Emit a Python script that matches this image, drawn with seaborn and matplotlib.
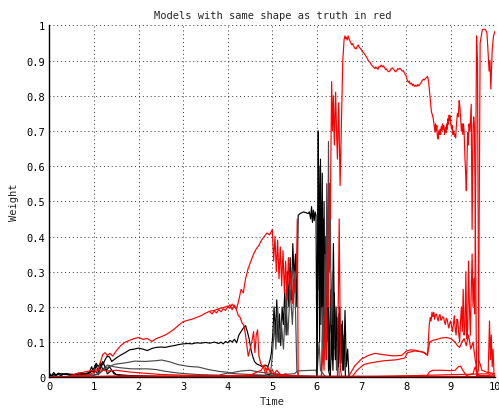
import matplotlib
matplotlib.use("Agg")
import matplotlib.pyplot as plt
import pandas as pd
import seaborn as sns

# ---- model weight traces (time, weight) ----
red_a_t = [0, 6.10, 6.14, 6.16, 6.19, 6.21, 6.24, 6.26, 6.28, 6.30,
           6.33, 6.35, 6.37, 6.39, 6.42, 6.44, 6.46, 6.49, 6.52, 6.55,
           6.58, 6.61, 6.63, 6.645, 6.66, 6.68, 6.70, 6.72, 6.74, 6.76,
           6.78, 6.80, 6.82, 6.85, 6.88, 6.90, 6.93, 6.95, 6.97, 7.00,
           7.02, 7.04, 7.07, 7.10, 7.12, 7.15, 7.17, 7.19, 7.22, 7.25,
           7.27, 7.30, 7.32, 7.34, 7.37, 7.39, 7.41, 7.44, 7.47, 7.49,
           7.52, 7.54, 7.56, 7.59, 7.61, 7.64, 7.66, 7.69, 7.71, 7.74,
           7.76, 7.79, 7.81, 7.84, 7.86, 7.89, 7.91, 7.94, 7.96, 7.98,
           8.00, 8.02, 8.05, 8.07, 8.09, 8.12, 8.14, 8.16, 8.19, 8.21,
           8.24, 8.26, 8.29, 8.31, 8.34, 8.36, 8.39, 8.41, 8.44, 8.46,
           8.48, 8.50, 8.52, 8.54, 8.555, 8.57, 8.59, 8.61, 8.63, 8.65,
           8.66, 8.67, 8.69, 8.70, 8.72, 8.73, 8.745, 8.76, 8.775, 8.79,
           8.80, 8.815, 8.83, 8.845, 8.86, 8.87, 8.885, 8.90, 8.91, 8.925,
           8.94, 8.95, 8.965, 8.98, 8.99, 9.00, 9.02, 9.035, 9.05, 9.07,
           9.085, 9.10, 9.11, 9.13, 9.15, 9.17, 9.19, 9.205, 9.22, 9.24,
           9.255, 9.27, 9.285, 9.30, 9.31, 9.32, 9.335, 9.35, 9.365, 9.38,
           9.395, 9.41, 9.43, 9.445, 9.46, 9.47, 9.48, 9.49, 9.50, 9.515,
           9.53, 9.545, 9.56, 9.58, 9.62, 9.66, 9.71, 9.77, 9.81, 9.83,
           9.86, 9.88, 9.90, 9.93, 9.96, 10.0]
red_a_w = [0, 0.0, 0.08, 0.02, 0.20, 0.05, 0.38, 0.20, 0.55, 0.45,
           0.84, 0.70, 0.80, 0.66, 0.81, 0.70, 0.62, 0.78, 0.545, 0.72,
           0.90, 0.96, 0.97, 0.962, 0.966, 0.958, 0.97, 0.962, 0.956, 0.95,
           0.945, 0.948, 0.942, 0.935, 0.933, 0.94, 0.944, 0.938, 0.935, 0.93,
           0.925, 0.923, 0.918, 0.912, 0.909, 0.90, 0.898, 0.895, 0.888, 0.884,
           0.881, 0.877, 0.882, 0.879, 0.875, 0.883, 0.881, 0.887, 0.882, 0.885,
           0.879, 0.874, 0.876, 0.870, 0.868, 0.871, 0.876, 0.879, 0.876, 0.872,
           0.868, 0.871, 0.877, 0.875, 0.878, 0.874, 0.870, 0.871, 0.865, 0.86,
           0.857, 0.846, 0.838, 0.842, 0.833, 0.836, 0.829, 0.833, 0.826, 0.83,
           0.827, 0.832, 0.828, 0.833, 0.838, 0.843, 0.847, 0.845, 0.85, 0.852,
           0.855, 0.843, 0.82, 0.791, 0.77, 0.753, 0.745, 0.734, 0.715, 0.696,
           0.72, 0.70, 0.715, 0.685, 0.677, 0.70, 0.69, 0.705, 0.69, 0.712,
           0.701, 0.72, 0.705, 0.715, 0.69, 0.70, 0.71, 0.695, 0.72, 0.705,
           0.735, 0.72, 0.745, 0.73, 0.743, 0.72, 0.705, 0.715, 0.69, 0.70,
           0.685, 0.69, 0.68, 0.72, 0.75, 0.74, 0.786, 0.77, 0.74, 0.70,
           0.72, 0.69, 0.72, 0.70, 0.66, 0.62, 0.58, 0.53, 0.62, 0.696,
           0.66, 0.72, 0.70, 0.74, 0.776, 0.6, 0.42, 0.55, 0.70, 0.74,
           0.72, 0.55, 0.30, 0.0, 0.02, 0.95, 0.988, 0.989, 0.980, 0.942,
           0.87, 0.90, 0.819, 0.93, 0.97, 0.985]

red_b_t = [0, 0.5, 0.9, 1.1, 1.15, 1.2, 1.25, 1.3, 1.36, 1.42, 1.5, 1.6, 1.7, 1.8, 1.9, 2.0, 2.1, 2.2, 2.3,
           2.4, 2.5, 2.6, 2.7, 2.8, 2.9, 3.0, 3.1, 3.2, 3.3, 3.4, 3.5, 3.6, 3.7, 3.8, 3.9, 4.0, 4.05, 4.1, 4.15,
           4.2, 4.25, 4.3, 4.35, 4.4, 4.46, 4.52, 4.58, 4.64, 4.7, 4.76, 4.82, 4.88, 4.94, 5.0, 5.03, 5.06, 5.09,
           5.12, 5.15, 5.18, 5.21, 5.24, 5.27, 5.3, 5.33, 5.36, 5.39, 5.42, 5.45, 5.48, 5.51, 5.54, 5.56, 5.58,
           5.6, 10]
red_b_w = [0, 0.003, 0.008, 0.02, 0.045, 0.065, 0.07, 0.062, 0.068, 0.06, 0.075, 0.09, 0.1, 0.105, 0.11,
           0.113, 0.108, 0.11, 0.102, 0.11, 0.115, 0.12, 0.128, 0.137, 0.148, 0.158, 0.162, 0.165, 0.17, 0.175,
           0.182, 0.188, 0.19, 0.195, 0.198, 0.202, 0.196, 0.208, 0.2, 0.195, 0.22, 0.25, 0.24, 0.28, 0.31, 0.33,
           0.35, 0.365, 0.375, 0.39, 0.4, 0.41, 0.405, 0.42, 0.33, 0.4, 0.3, 0.39, 0.28, 0.37, 0.26, 0.36, 0.24,
           0.33, 0.22, 0.34, 0.25, 0.3, 0.21, 0.28, 0.24, 0.3, 0.45, 0.0, 0.0, 0.0]

red_c_t = [3.6, 3.65, 3.7, 3.75, 3.8, 3.85, 3.9, 3.95, 4.0, 4.05, 4.1, 4.15, 4.2, 4.24, 4.28, 4.32, 4.36,
           4.4, 4.43, 4.46, 4.5, 4.54, 4.58, 4.61, 4.64, 4.67, 4.7, 4.74, 4.78, 4.82, 4.86, 4.9, 4.95, 5.0,
           5.05, 5.1, 5.2, 5.3, 5.4, 5.5, 5.6]
red_c_w = [0.186, 0.18, 0.188, 0.183, 0.192, 0.186, 0.195, 0.19, 0.2, 0.206, 0.192, 0.205, 0.19, 0.175,
           0.17, 0.155, 0.148, 0.12, 0.09, 0.06, 0.08, 0.1, 0.13, 0.07, 0.12, 0.135, 0.06, 0.04, 0.03, 0.035,
           0.02, 0.03, 0.015, 0.02, 0.01, 0.02, 0.005, 0.01, 0.003, 0.005, 0.0]

red_d_t = [0, 6.78, 6.90, 7.05, 7.20, 7.50, 7.80, 7.97, 8.03, 8.20, 8.35, 8.48, 8.53, 8.60, 8.70, 8.80,
           8.90, 9.00, 9.10, 9.15, 9.20, 9.25, 9.30, 9.35, 9.40, 9.45, 9.50, 9.55, 9.60, 9.65, 9.70, 9.80,
           9.90, 10.0]
red_d_w = [0, 0.0, 0.020, 0.036, 0.041, 0.047, 0.050, 0.055, 0.070, 0.075, 0.072, 0.065, 0.100, 0.105,
           0.108, 0.112, 0.113, 0.110, 0.100, 0.090, 0.085, 0.100, 0.110, 0.090, 0.120, 0.080, 0.100, 0.050,
           0.010, 0.005, 0.004, 0.003, 0.010, 0.005]

red_e_t = [0, 6.70, 6.85, 7.00, 7.15, 7.30, 7.50, 7.70, 7.90, 8.00,
           8.10, 8.20, 8.30, 8.40, 8.48, 8.52, 8.54, 8.56, 8.58, 8.60,
           8.62, 8.64, 8.66, 8.68, 8.70, 8.72, 8.74, 8.76, 8.78, 8.80,
           8.82, 8.84, 8.86, 8.88, 8.90, 8.92, 8.94, 8.96, 8.98, 9.00,
           9.02, 9.04, 9.06, 9.08, 9.10, 9.12, 9.14, 9.16, 9.18, 9.20,
           9.22, 9.24, 9.26, 9.28, 9.30, 9.32, 9.34, 9.36, 9.38, 9.40,
           9.42, 9.44, 9.46, 9.48, 9.50, 9.52, 9.54, 9.56, 9.58, 9.60,
           9.63, 9.70, 9.80, 10.0]
red_e_w = [0, 0.0, 0.033, 0.052, 0.062, 0.068, 0.064, 0.061, 0.062, 0.074,
           0.078, 0.077, 0.074, 0.071, 0.062, 0.150, 0.170, 0.160, 0.185, 0.172,
           0.185, 0.165, 0.178, 0.180, 0.168, 0.160, 0.175, 0.178, 0.162, 0.165,
           0.172, 0.170, 0.158, 0.150, 0.168, 0.165, 0.150, 0.140, 0.155, 0.160,
           0.145, 0.130, 0.150, 0.175, 0.140, 0.120, 0.165, 0.160, 0.125, 0.100,
           0.160, 0.200, 0.130, 0.250, 0.120, 0.140, 0.300, 0.110, 0.140, 0.330,
           0.200, 0.120, 0.240, 0.350, 0.200, 0.280, 0.180, 0.600, 0.970, 0.900,
           0.050, 0.020, 0.015, 0.010]

red_f_t = [0, 8.45, 8.52, 8.60, 8.80, 9.00, 9.10, 9.17, 9.22, 9.27, 9.35, 9.50, 9.55, 9.60, 10.0]
red_f_w = [0, 0.0, 0.015, 0.020, 0.020, 0.019, 0.020, 0.030, 0.032, 0.020, 0.005, 0.010, 0.030, 0.005, 0.004]

red_g_t = [0, 6.46, 6.50, 6.53, 6.56, 9.84, 9.87, 9.89, 9.91, 9.93, 9.95, 9.97, 10.0]
red_g_w = [0, 0.0, 0.45, 0.02, 0.0, 0.01, 0.16, 0.05, 0.12, 0.03, 0.08, 0.01, 0.01]

red_low_t = [0, 0.4, 0.6, 0.9, 1.1, 1.3, 1.5, 1.8, 2.1, 2.5, 3.0, 3.5, 4.0, 4.5, 4.75, 4.8, 4.85, 4.9,
             5.0, 5.2, 6.0, 10]
red_low_w = [0.0, 0.0, 0.01, 0.018, 0.022, 0.018, 0.02, 0.015, 0.012, 0.008, 0.006, 0.005, 0.005, 0.006,
             0.02, 0.03, 0.01, 0.025, 0.01, 0.004, 0.003, 0.002]

red_base_t = [0, 1.5, 3.0, 4.5, 5.0, 10]
red_base_w = [0, 0.004, 0.003, 0.004, 0.002, 0.001]

blk_1_t = [0, 0.3, 0.6, 0.9, 1.0, 1.05, 1.1, 1.15, 1.2, 1.25, 1.3, 1.35, 1.4, 1.45, 1.5, 1.6, 1.7, 1.8,
           1.9, 2.0, 2.1, 2.2, 2.3, 2.4, 2.5, 2.6, 2.7, 2.8, 2.9, 3.0, 3.1, 3.2, 3.3, 3.4, 3.5, 3.6, 3.7,
           3.8, 3.85, 3.9, 3.95, 4.0, 4.05, 4.1, 4.15, 4.2, 4.25, 4.3, 4.35, 4.4, 4.44, 4.48, 4.52, 4.56,
           4.6, 4.65, 4.7, 4.75, 4.8, 4.85, 4.9, 4.95, 4.98, 5.01, 5.04, 5.07, 5.1, 5.13, 5.16, 5.19, 5.22,
           5.25, 5.28, 5.31, 5.34, 5.37, 5.4, 5.43, 5.46, 5.49, 5.52, 5.55, 5.58, 5.62, 5.7, 5.75, 5.8, 5.83,
           5.86, 5.88, 5.9, 5.92, 5.94, 5.96, 5.98, 6.0, 6.02, 6.03, 6.05, 6.07, 6.09, 6.11, 6.13, 6.15,
           6.17, 6.19, 6.21, 6.23, 6.26, 6.3, 10]
blk_1_w = [0.005, 0.01, 0.008, 0.012, 0.025, 0.04, 0.03, 0.042, 0.035, 0.05, 0.06, 0.058, 0.045, 0.05,
           0.055, 0.063, 0.07, 0.078, 0.08, 0.083, 0.08, 0.076, 0.082, 0.085, 0.086, 0.085, 0.088, 0.09,
           0.093, 0.095, 0.096, 0.095, 0.098, 0.097, 0.099, 0.097, 0.1, 0.096, 0.1, 0.095, 0.102, 0.098,
           0.105, 0.1, 0.108, 0.098, 0.12, 0.13, 0.14, 0.147, 0.13, 0.11, 0.08, 0.06, 0.045, 0.038, 0.035,
           0.032, 0.03, 0.035, 0.03, 0.05, 0.07, 0.12, 0.2, 0.12, 0.22, 0.1, 0.18, 0.09, 0.2, 0.15, 0.25,
           0.12, 0.3, 0.2, 0.34, 0.22, 0.38, 0.28, 0.35, 0.2, 0.46, 0.465, 0.47, 0.468, 0.465, 0.47, 0.45,
           0.485, 0.44, 0.475, 0.445, 0.47, 0.46, 0.02, 0.5, 0.7, 0.25, 0.6, 0.15, 0.5, 0.1, 0.45, 0.08,
           0.35, 0.05, 0.3, 0.02, 0.0, 0.0]

blk_3_t = [0, 1.0, 1.15, 1.29, 1.47, 1.7, 1.92, 2.15, 2.37, 2.52, 2.7, 2.89, 3.12, 3.35, 3.57, 3.79,
           4.09, 4.3, 4.5, 4.7, 4.9, 5.2, 5.5, 5.56, 5.7, 5.9, 5.98, 6.0, 6.05, 6.08, 6.2, 10]
blk_3_w = [0.0, 0.005, 0.015, 0.028, 0.037, 0.041, 0.046, 0.045, 0.047, 0.049, 0.044, 0.036, 0.031,
           0.029, 0.022, 0.017, 0.013, 0.018, 0.02, 0.015, 0.012, 0.008, 0.01, 0.018, 0.019, 0.02, 0.02,
           0.005, 0.1, 0.02, 0.0, 0.0]

blk_4_t = [0, 1.1, 1.2, 1.3, 1.45, 1.6, 1.85, 2.2, 2.4, 2.6, 2.9, 3.3, 3.8, 4.0, 4.2, 4.5, 5.0, 6.0, 10]
blk_4_w = [0.0, 0.008, 0.02, 0.035, 0.03, 0.027, 0.024, 0.024, 0.022, 0.017, 0.012, 0.008, 0.006, 0.012,
           0.01, 0.008, 0.005, 0.003, 0.002]

blk_6_t = [0, 6.0, 6.02, 6.04, 6.06, 6.08, 6.1, 6.12, 6.14, 6.16, 6.18, 6.2, 6.22, 6.25, 6.28, 6.31,
           6.34, 6.37, 6.4, 6.43, 6.46, 6.49, 6.52, 6.55, 6.58, 6.61, 6.64, 10]
blk_6_w = [0, 0.0, 0.3, 0.55, 0.1, 0.62, 0.2, 0.58, 0.05, 0.5, 0.15, 0.4, 0.1, 0.3, 0.02, 0.25, 0.05,
           0.38, 0.08, 0.2, 0.02, 0.18, 0.04, 0.15, 0.02, 0.12, 0.0, 0.0]

blk_7_t = [0, 6.1, 6.13, 6.15, 6.18, 6.2, 6.22, 6.24, 6.26, 6.28, 6.3, 6.32, 6.35, 6.38, 6.41, 6.44,
           6.47, 6.5, 10]
blk_7_w = [0, 0.0, 0.2, 0.05, 0.35, 0.1, 0.55, 0.2, 0.67, 0.3, 0.5, 0.15, 0.3, 0.05, 0.17, 0.02, 0.1,
           0.0, 0.0]

blk_8_t = [0, 6.3, 6.33, 6.36, 6.39, 6.42, 6.45, 6.48, 6.51, 6.54, 6.57, 6.6, 6.63, 6.66, 6.69, 6.72, 10]
blk_8_w = [0, 0.0, 0.12, 0.02, 0.24, 0.05, 0.17, 0.03, 0.2, 0.04, 0.16, 0.02, 0.19, 0.03, 0.08, 0.0, 0.0]

blk_9_t = [0, 4.95, 5.0, 5.05, 5.08, 5.12, 5.16, 5.2, 5.25, 5.3, 5.35, 5.4, 5.45, 5.5, 5.55, 5.6, 10]
blk_9_w = [0, 0.0, 0.06, 0.15, 0.08, 0.2, 0.1, 0.16, 0.08, 0.22, 0.12, 0.25, 0.15, 0.3, 0.02, 0.0, 0.0]

blk_10_t = [0, 0.05, 0.1, 0.15, 0.2, 0.3, 0.4, 0.5, 0.6, 0.7, 0.8, 0.9, 0.95, 1.0, 1.05, 1.1, 1.15,
            1.2, 1.25, 1.3, 1.4, 1.5, 1.8, 2.5, 4.0, 4.8, 5.0, 5.5, 6.0, 6.7, 10]
blk_10_w = [0.012, 0.004, 0.014, 0.006, 0.012, 0.008, 0.01, 0.006, 0.009, 0.012, 0.008, 0.015, 0.03,
            0.012, 0.035, 0.015, 0.04, 0.02, 0.03, 0.01, 0.02, 0.008, 0.005, 0.003, 0.003, 0.005, 0.01,
            0.004, 0.002, 0.002, 0.002]

blk_11_t = [0, 0.1, 0.2, 0.35, 0.5, 0.65, 0.8, 1.0, 1.1, 1.2, 1.28, 1.35, 1.45, 1.6, 2.0, 10]
blk_11_w = [0.0, 0.008, 0.002, 0.01, 0.004, 0.012, 0.005, 0.02, 0.01, 0.045, 0.02, 0.03, 0.01, 0.004,
            0.002, 0.001]

x_ticks = [0, 1, 2, 3, 4, 5, 6, 7, 8, 9, 10]
y_ticks = [0, 0.1, 0.2, 0.3, 0.4, 0.5, 0.6, 0.7, 0.8, 0.9, 1]
y_tick_labels = ["0", "0.1", "0.2", "0.3", "0.4", "0.5", "0.6", "0.7", "0.8", "0.9", "1"]

RED, BLACK, GREY = "#ff0000", "#000000", "#4a4a4a"

# drawing order: black traces underneath, red traces on top
series = [
    ("blk_10", blk_10_t, blk_10_w, BLACK),
    ("blk_11", blk_11_t, blk_11_w, BLACK),
    ("blk_4", blk_4_t, blk_4_w, GREY),
    ("blk_3", blk_3_t, blk_3_w, GREY),
    ("blk_1", blk_1_t, blk_1_w, BLACK),
    ("blk_9", blk_9_t, blk_9_w, GREY),
    ("blk_6", blk_6_t, blk_6_w, BLACK),
    ("blk_7", blk_7_t, blk_7_w, GREY),
    ("blk_8", blk_8_t, blk_8_w, BLACK),
    ("red_low", red_low_t, red_low_w, RED),
    ("red_base", red_base_t, red_base_w, RED),
    ("red_c", red_c_t, red_c_w, RED),
    ("red_b", red_b_t, red_b_w, RED),
    ("red_d", red_d_t, red_d_w, RED),
    ("red_e", red_e_t, red_e_w, RED),
    ("red_f", red_f_t, red_f_w, RED),
    ("red_g", red_g_t, red_g_w, RED),
    ("red_a", red_a_t, red_a_w, RED),
]

frames = []
for name, t, w, _ in series:
    frames.append(pd.DataFrame({"Time": t, "Weight": w, "model": name}))
df = pd.concat(frames, ignore_index=True)
palette = {name: col for name, _, _, col in series}
order = [name for name, _, _, _ in series]

sns.set_style("white")
plt.rcParams["font.family"] = ["DejaVu Sans Mono"]

fig = plt.figure(figsize=(4.99, 4.10), dpi=100)
ax = fig.add_axes([0.0988, 0.0773, 0.8938, 0.8585])

sns.lineplot(data=df, x="Time", y="Weight", hue="model", hue_order=order, palette=palette,
             estimator=None, sort=False, linewidth=0.85, legend=False, ax=ax)

ax.set_xlim(0, 10)
ax.set_ylim(0, 1)
ax.set_xticks(x_ticks)
ax.set_xticklabels([str(v) for v in x_ticks])
ax.set_yticks(y_ticks)
ax.set_yticklabels(y_tick_labels)

# sparse dotted grid
ax.grid(True, color="#333333", linestyle=(0, (1, 3)), linewidth=0.7)
ax.set_axisbelow(True)
for side in ("top", "right"):
    ax.spines[side].set_visible(False)
for side in ("left", "bottom"):
    ax.spines[side].set_color("black")
    ax.spines[side].set_linewidth(1.0)

ax.tick_params(axis="both", direction="in", length=3, width=0.6, color="black",
               labelsize=7.5, labelcolor="black", pad=3)

ax.set_title("Models with same shape as truth in red", fontsize=7.5, pad=5)
ax.set_xlabel("Time", fontsize=7.5, labelpad=3)
ax.set_ylabel("Weight", fontsize=7.5, labelpad=5)

fig.savefig("out.png", dpi=100)
